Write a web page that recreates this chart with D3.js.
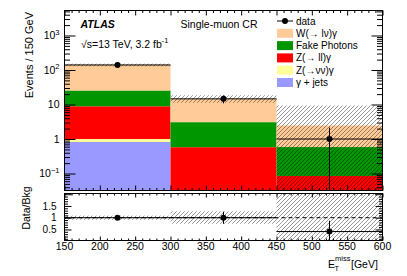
<!DOCTYPE html>
<html><head><meta charset="utf-8">
<script src="https://cdn.jsdelivr.net/npm/d3@7"></script>
<style>
body{margin:0;background:#fff}
svg{display:block}
text{font-family:"Liberation Sans",Arial,Helvetica,sans-serif;fill:#000}
</style>
</head><body>
<svg id="c" width="407" height="276"></svg>
<script>
// ---------- data ----------
const binEdges = [150, 300, 450, 600];
const gammaJets   = [0.82, 0.004, 0.002];
const zNuNuGamma  = [0.18, 0.005, 0.003];
const zLLGamma    = [7.9, 0.57, 0.08];
const fakePhotons = [16.6, 2.5, 0.5];
const wLNuGamma   = [115, 11.5, 1.88];
const dataCounts  = [140, 14.6, 1.0];
const dataErrUp   = [11.8, 3.8, 1.14];
const dataErrDown = [11.8, 3.8, 1.0];
const bkgBandLow  = [128, 11.2, 0.001];
const bkgBandHigh = [153, 18.5, 9.4];
const ratioValues   = [1.0, 1.0, 0.41];
const ratioErrUp    = [0.085, 0.26, 0.46];
const ratioErrDown  = [0.085, 0.26, 0.41];
const ratioBandLow  = [0.91, 0.74, 0.0];
const ratioBandHigh = [1.09, 1.27, 3.0];
const xTickValues = [150, 200, 250, 300, 350, 400, 450, 500, 550, 600];
const xTickLabels = ["150","200","250","300","350","400","450","500","550","600"];
const yMainTicks  = [0.1, 1, 10, 100, 1000];
const yMainBase   = ["10", "1", "10", "10", "10"];
const yMainExp    = ["\u22121", "", "", "2", "3"];
const ratioTicks  = [0.5, 1, 1.5];
const ratioTickLabels = ["0.5", "1", "1.5"];
const seriesKeys   = ["gj", "znn", "zll", "fake", "w"];
const seriesNames  = ["\u03b3 + jets", "Z(\u2192\u03bd\u03bd)\u03b3", "Z(\u2192 ll)\u03b3", "Fake Photons", "W(\u2192 l\u03bd)\u03b3"];
const seriesColors = ["#9999ff", "#ffff99", "#ff0000", "#009600", "#ffcc99"];

// ---------- setup ----------
const svg = d3.select("#c");
const x  = d3.scaleLinear().domain([150, 600]).range([64.5, 382.5]);
const y  = d3.scaleLog().domain([0.0322, 5300]).range([190.5, 10.5]);
const yr = d3.scaleLinear().domain([0.03, 2.03]).range([240.5, 193.5]);

const defs = svg.append("defs");
defs.append("clipPath").attr("id","clipMain").append("rect")
  .attr("x",x(150)).attr("y",y.range()[1]).attr("width",x(600)-x(150)).attr("height",y.range()[0]-y.range()[1]);
defs.append("clipPath").attr("id","clipRatio").append("rect")
  .attr("x",x(150)).attr("y",yr.range()[1]).attr("width",x(600)-x(150)).attr("height",yr.range()[0]-yr.range()[1]);
const pat = defs.append("pattern").attr("id","hatch").attr("patternUnits","userSpaceOnUse")
  .attr("width",4).attr("height",4);
pat.append("path").attr("d","M-1,1 l2,-2 M0,4 l4,-4 M3,5 l2,-2")
  .attr("stroke","#000").attr("stroke-opacity",0.5).attr("stroke-width",0.8);

const rows = binEdges.slice(0,-1).map((lo,i)=>({
  lo, hi: binEdges[i+1],
  gj: gammaJets[i], znn: zNuNuGamma[i], zll: zLLGamma[i], fake: fakePhotons[i], w: wLNuGamma[i]
}));
const stacked = d3.stack().keys(seriesKeys)(rows);
const safe = v => Math.max(v, 1e-4);

// ---------- main panel ----------
const gm = svg.append("g").attr("clip-path","url(#clipMain)");
stacked.forEach((layer, k) => {
  gm.selectAll(null).data(layer).enter().append("rect")
    .attr("x", d => x(d.data.lo)).attr("width", d => x(d.data.hi) - x(d.data.lo))
    .attr("y", d => y(safe(d[1]))).attr("height", d => y(safe(d[0])) - y(safe(d[1])))
    .attr("fill", seriesColors[k]);
});
// uncertainty band
gm.selectAll(null).data(rows).enter().append("rect")
  .attr("x", d => x(d.lo)).attr("width", d => x(d.hi) - x(d.lo))
  .attr("y", (d,i) => y(bkgBandHigh[i])).attr("height", (d,i) => y(safe(bkgBandLow[i])) - y(bkgBandHigh[i]))
  .attr("fill","url(#hatch)");
// data
rows.forEach((d,i) => {
  const cx = x((d.lo + d.hi)/2), cy = y(dataCounts[i]);
  gm.append("line").attr("x1",x(d.lo)).attr("x2",x(d.hi)).attr("y1",cy).attr("y2",cy).attr("stroke","#000").attr("stroke-width",1);
  gm.append("line").attr("x1",cx).attr("x2",cx).attr("y1",y(dataCounts[i]+dataErrUp[i]))
    .attr("y2",y(safe(dataCounts[i]-dataErrDown[i]))).attr("stroke","#000").attr("stroke-width",1);
  gm.append("circle").attr("cx",cx).attr("cy",cy).attr("r",3).attr("fill","#000");
});

// ---------- ratio panel ----------
const gr = svg.append("g").attr("clip-path","url(#clipRatio)");
gr.selectAll(null).data(rows).enter().append("rect")
  .attr("x", d => x(d.lo)).attr("width", d => x(d.hi) - x(d.lo))
  .attr("y", (d,i) => yr(ratioBandHigh[i])).attr("height", (d,i) => yr(ratioBandLow[i]) - yr(ratioBandHigh[i]))
  .attr("fill","url(#hatch)");
gr.append("line").attr("x1",x(150)).attr("x2",x(600)).attr("y1",yr(1)).attr("y2",yr(1))
  .attr("stroke","#000").attr("stroke-width",1).attr("stroke-dasharray","4,3");
rows.forEach((d,i) => {
  const cx = x((d.lo + d.hi)/2), cy = yr(ratioValues[i]);
  gr.append("line").attr("x1",x(d.lo)).attr("x2",x(d.hi)).attr("y1",cy).attr("y2",cy).attr("stroke","#000").attr("stroke-width",1);
  gr.append("line").attr("x1",cx).attr("x2",cx).attr("y1",yr(ratioValues[i]+ratioErrUp[i]))
    .attr("y2",yr(ratioValues[i]-ratioErrDown[i])).attr("stroke","#000").attr("stroke-width",1);
  gr.append("circle").attr("cx",cx).attr("cy",cy).attr("r",3).attr("fill","#000");
});

// ---------- axes / ticks ----------
const xMinor = d3.range(150, 601, 10).filter(v => v % 50 !== 0);
function styleAxis(g){ g.select(".domain").remove(); g.selectAll("line").attr("stroke","#000").attr("stroke-width",1); g.selectAll("text").remove(); }
function addAxis(axis, tx, ty){ svg.append("g").attr("transform",`translate(${tx},${ty})`).call(axis).call(styleAxis); }

// main x ticks
addAxis(d3.axisBottom(x).tickValues(xTickValues).tickSizeInner(-5).tickSizeOuter(0), 0, y.range()[0]);
addAxis(d3.axisBottom(x).tickValues(xMinor).tickSizeInner(-2.5).tickSizeOuter(0), 0, y.range()[0]);
addAxis(d3.axisTop(x).tickValues(xTickValues).tickSizeInner(-5).tickSizeOuter(0), 0, y.range()[1]);
addAxis(d3.axisTop(x).tickValues(xMinor).tickSizeInner(-2.5).tickSizeOuter(0), 0, y.range()[1]);
// ratio x ticks
addAxis(d3.axisBottom(x).tickValues(xTickValues).tickSizeInner(-4).tickSizeOuter(0), 0, yr.range()[0]);
addAxis(d3.axisBottom(x).tickValues(xMinor).tickSizeInner(-2).tickSizeOuter(0), 0, yr.range()[0]);
addAxis(d3.axisTop(x).tickValues(xTickValues).tickSizeInner(-4).tickSizeOuter(0), 0, yr.range()[1]);
addAxis(d3.axisTop(x).tickValues(xMinor).tickSizeInner(-2).tickSizeOuter(0), 0, yr.range()[1]);
// main y log ticks
const yMinor = [];
[0.01,0.1,1,10,100,1000].forEach(dec => { for (let m=2;m<=9;m++){ const v=dec*m; if (v>0.0322 && v<5300) yMinor.push(v);} });
addAxis(d3.axisLeft(y).tickValues(yMainTicks).tickSizeInner(-11).tickSizeOuter(0), x(150), 0);
addAxis(d3.axisLeft(y).tickValues(yMinor).tickSizeInner(-5.5).tickSizeOuter(0), x(150), 0);
addAxis(d3.axisRight(y).tickValues(yMainTicks).tickSizeInner(-11).tickSizeOuter(0), x(600), 0);
addAxis(d3.axisRight(y).tickValues(yMinor).tickSizeInner(-5.5).tickSizeOuter(0), x(600), 0);
// ratio y ticks
const rMajor = [0.5,1,1.5,2];
const rMinor = d3.range(0.1, 2.01, 0.1).map(v=>+v.toFixed(1)).filter(v => !rMajor.includes(v));
addAxis(d3.axisLeft(yr).tickValues(rMajor).tickSizeInner(-7).tickSizeOuter(0), x(150), 0);
addAxis(d3.axisLeft(yr).tickValues(rMinor).tickSizeInner(-3.5).tickSizeOuter(0), x(150), 0);
addAxis(d3.axisRight(yr).tickValues(rMajor).tickSizeInner(-7).tickSizeOuter(0), x(600), 0);
addAxis(d3.axisRight(yr).tickValues(rMinor).tickSizeInner(-3.5).tickSizeOuter(0), x(600), 0);

// frames
svg.append("rect").attr("x",x(150)).attr("y",y.range()[1]).attr("width",x(600)-x(150)).attr("height",y.range()[0]-y.range()[1])
  .attr("fill","none").attr("stroke","#000").attr("stroke-width",1);
svg.append("rect").attr("x",x(150)).attr("y",yr.range()[1]).attr("width",x(600)-x(150)).attr("height",yr.range()[0]-yr.range()[1])
  .attr("fill","none").attr("stroke","#000").attr("stroke-width",1);

// ---------- labels ----------
xTickValues.forEach((v,i) => {
  svg.append("text").attr("x",x(v)).attr("y",249.5).attr("text-anchor","middle").attr("font-size",10.5).text(xTickLabels[i]);
});
yMainTicks.forEach((v,i) => {
  const t = svg.append("text").attr("x",59.5).attr("y",y(v)+3.8).attr("text-anchor","end").attr("font-size",10.5);
  t.append("tspan").text(yMainBase[i]);
  if (yMainExp[i]) t.append("tspan").attr("dy",-4.5).attr("font-size",7.5).text(yMainExp[i]);
});
ratioTicks.forEach((v,i) => {
  svg.append("text").attr("x",56.5).attr("y",yr(v)+3.6).attr("text-anchor","end").attr("font-size",10).text(ratioTickLabels[i]);
});
svg.append("text").attr("transform","translate(33,12) rotate(-90)").attr("text-anchor","end").attr("font-size",11).text("Events / 150 GeV");
svg.append("text").attr("transform","translate(30,208) rotate(-90)").attr("text-anchor","middle").attr("font-size",10.5).text("Data/Bkg");
svg.append("text").attr("x",328).attr("y",267.5).attr("font-size",10.5).text("E");
svg.append("text").attr("x",334.5).attr("y",270.5).attr("font-size",7.5).text("T");
svg.append("text").attr("x",335).attr("y",261).attr("font-size",7.5).text("miss");
svg.append("text").attr("x",351).attr("y",267.5).attr("font-size",10.5).text("[GeV]");

svg.append("text").attr("x",80.5).attr("y",28.3).attr("font-size",10.5).attr("font-weight","bold").attr("font-style","italic").text("ATLAS");
const lumi = svg.append("text").attr("x",81).attr("y",47.5).attr("font-size",10.5);
lumi.append("tspan").text("\u221as=13 TeV, 3.2 fb");
lumi.append("tspan").attr("dy",-4.5).attr("font-size",7.5).text("-1");
svg.append("text").attr("x",180.5).attr("y",28.3).attr("font-size",10.5).text("Single-muon CR");

// ---------- legend ----------
const legX = 277, legY0 = 21, legStep = 12.3;
svg.append("line").attr("x1",legX).attr("x2",legX+16).attr("y1",legY0).attr("y2",legY0).attr("stroke","#000").attr("stroke-width",1);
svg.append("circle").attr("cx",legX+8).attr("cy",legY0).attr("r",3).attr("fill","#000");
svg.append("text").attr("x",legX+19).attr("y",legY0+3.5).attr("font-size",10).text("data");
const legOrder = [4,3,2,1,0];
legOrder.forEach((k,j) => {
  const cy = legY0 + legStep*(j+1);
  svg.append("rect").attr("x",legX).attr("y",cy-4.5).attr("width",16).attr("height",9).attr("fill",seriesColors[k]);
  svg.append("text").attr("x",legX+19).attr("y",cy+3.5).attr("font-size",10).text(seriesNames[k]);
});
</script>
</body></html>
